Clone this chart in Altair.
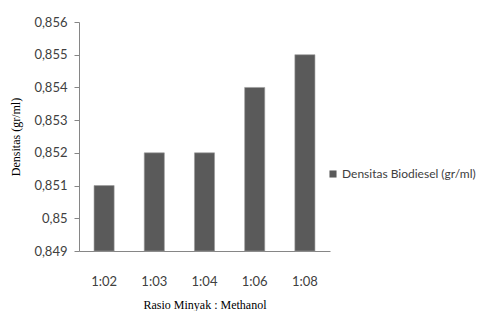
import altair as alt
import pandas as pd

categories = ["1:02", "1:03", "1:04", "1:06", "1:08"]
values = [0.851, 0.852, 0.852, 0.854, 0.855]
series_name = "Densitas Biodiesel (gr/ml)"
y_ticks = [0.849, 0.850, 0.851, 0.852, 0.853, 0.854, 0.855, 0.856]

df = pd.DataFrame({"rasio": categories, "densitas": values, "seri": [series_name] * len(categories)})

chart = alt.Chart(df).mark_bar(color="#5a5a5a", stroke="#9a9a9a", strokeWidth=0.6).encode(
    x=alt.X("rasio:N", sort=categories,
            scale=alt.Scale(paddingInner=0.6, paddingOuter=0.3),
            axis=alt.Axis(title="Rasio Minyak : Methanol", labelAngle=0, ticks=False,
                          labelPadding=24, titlePadding=11)),
    y=alt.Y("densitas:Q", scale=alt.Scale(domain=[0.849, 0.856], nice=False, zero=False, clamp=True),
            axis=alt.Axis(title="Densitas (gr/ml)", values=y_ticks, grid=False,
                          labelExpr="replace(format(datum.value, '.3~f'), '.', ',')",
                          tickSize=5, labelPadding=7, titlePadding=11)),
    color=alt.Color("seri:N", scale=alt.Scale(range=["#5a5a5a"]),
                    legend=alt.Legend(title=None, orient="none", legendX=248, legendY=146,
                                      symbolType="square", symbolSize=50, labelFont="Lato",
                                      labelFontSize=12, labelColor="#404040", labelLimit=300,
                                      symbolStrokeWidth=0, labelOffset=3)),
).properties(
    width=251, height=229,
    autosize=alt.AutoSizeParams(type="none"),
    padding={"left": 71, "top": 14, "right": 150, "bottom": 60},
).configure_view(
    stroke=None
).configure_axis(
    domainColor="#868686", tickColor="#868686",
    labelFont="Lato", labelFontSize=13, labelColor="#404040",
    titleFont="Liberation Serif", titleFontSize=12, titleFontWeight="normal", titleColor="#000000",
)

chart.save("out.html", embed_options={"renderer": "svg", "actions": False})
